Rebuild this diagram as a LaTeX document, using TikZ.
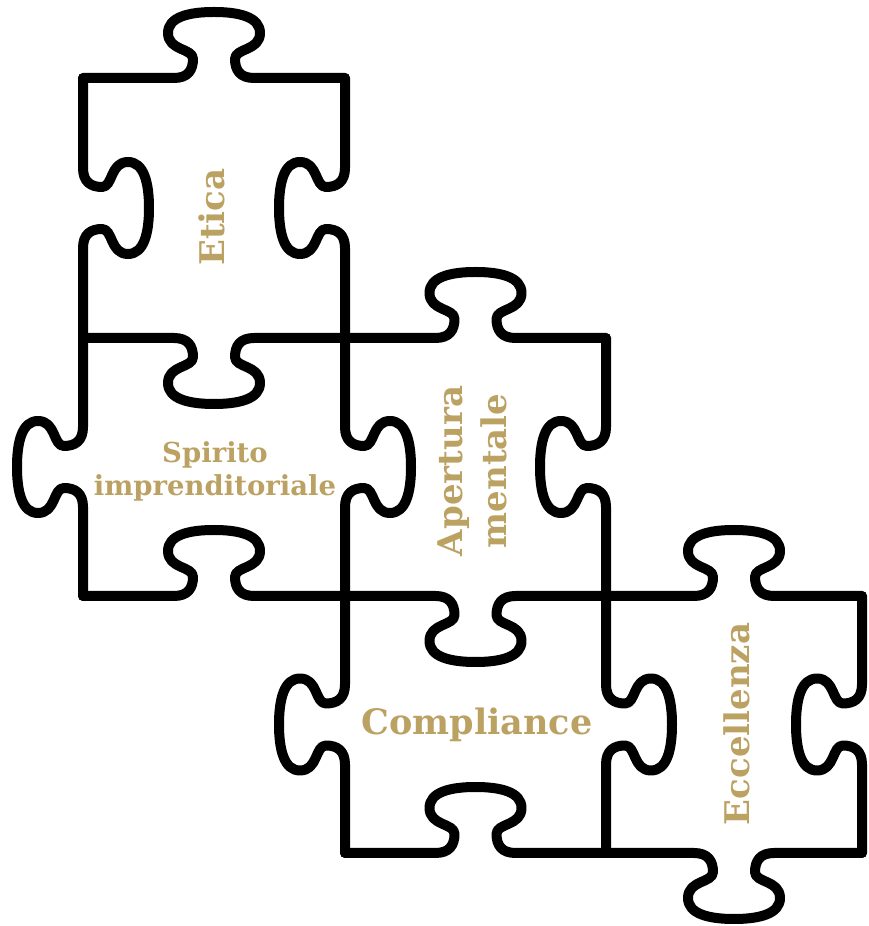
\documentclass[tikz,border=0pt]{standalone}
\usepackage{fontspec}
\setmainfont{DejaVu Serif}
\definecolor{gold}{HTML}{BBA263}
\tikzset{
  pline/.style={line width=10pt, line cap=round, line join=round, black},
  lbl/.style={text=gold, align=center, inner sep=0pt, font=\bfseries\fontsize{34}{44}\selectfont},
  lblsmall/.style={text=gold, align=center, inner sep=0pt, font=\bfseries\fontsize{27.5}{33}\selectfont}
}
% #1 x, #2 y, #3 angle, #4 length, #5 side (+1 left of direction, -1 right)
\newcommand\pedge[5]{%
  \begin{scope}[shift={(#1,#2)},rotate=#3,yscale=#5,shift={(#4/2,0)}]
    \draw[pline] (-#4/2,0) -- (-40,0)
      .. controls (-26,0) and (-21,8) .. (-21,19)
      .. controls (-21,30) and (-46,27) .. (-46,45)
      .. controls (-46,61) and (-25,66) .. (0,66)
      .. controls (25,66) and (46,61) .. (46,45)
      .. controls (46,27) and (21,30) .. (21,19)
      .. controls (21,8) and (26,0) .. (40,0)
      -- (#4/2,0);
  \end{scope}}
\begin{document}
\begin{tikzpicture}[x=1pt,y=1pt]
\useasboundingbox (0,0) rectangle (868,926);
% Etica
\pedge{83}{848}{0}{262}{1}
\pedge{83}{848}{-90}{260}{1}
\pedge{345}{848}{-90}{260}{-1}
\pedge{83}{588}{0}{262}{-1}
% Spirito
\pedge{83}{588}{-90}{258}{-1}
\pedge{345}{588}{-90}{258}{1}
\pedge{83}{330}{0}{262}{1}
% Apertura
\pedge{345}{588}{0}{261}{1}
\pedge{606}{588}{-90}{258}{-1}
\pedge{345}{330}{0}{261}{-1}
% Compliance
\pedge{345}{330}{-90}{257}{-1}
\pedge{606}{330}{-90}{257}{1}
\pedge{345}{73}{0}{261}{1}
% Eccellenza
\pedge{606}{330}{0}{256}{1}
\pedge{862}{330}{-90}{257}{-1}
\pedge{606}{73}{0}{256}{-1}
% labels
\node[lbl, rotate=90] (etica) at (212,709) {Etica};
\node[lblsmall] (spirito) at (215,455) {Spirito\\imprenditoriale};
\node[lbl, rotate=90] (apertura) at (472,455) {Apertura\\mentale};
\node[lbl] (compliance) at (477,201) {\fontsize{35}{44}\selectfont Compliance};
\node[lbl, rotate=90] (eccellenza) at (737,202) {Eccellenza};
\end{tikzpicture}
\end{document}
